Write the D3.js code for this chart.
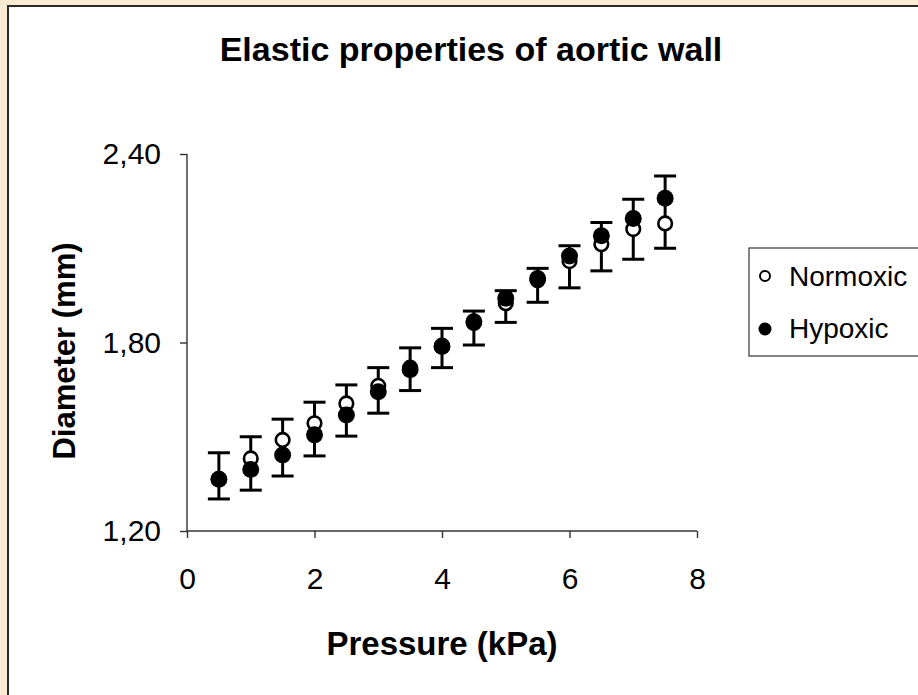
<!DOCTYPE html>
<html>
<head>
<meta charset="utf-8">
<script src="https://cdn.jsdelivr.net/npm/d3@7/dist/d3.min.js"></script>
<style>
  html, body { margin: 0; padding: 0; background: #f7ebd3; }
  svg { display: block; }
  text { font-family: "Liberation Sans", Arial, sans-serif; fill: #000; }
</style>
</head>
<body>
<svg id="chart" width="918" height="695"></svg>
<script>
// ---- data ----
const pressure = [0.5, 1, 1.5, 2, 2.5, 3, 3.5, 4, 4.5, 5, 5.5, 6, 6.5, 7, 7.5];
const normoxic = [1.365, 1.431, 1.490, 1.543, 1.606, 1.662, 1.720, 1.790, 1.862, 1.925, 1.998, 2.059, 2.113, 2.161, 2.179];
const hypoxic  = [1.365, 1.396, 1.442, 1.506, 1.569, 1.643, 1.713, 1.787, 1.866, 1.941, 2.004, 2.075, 2.140, 2.195, 2.259];
const errHigh  = [1.449, 1.500, 1.556, 1.610, 1.665, 1.720, 1.783, 1.845, 1.900, 1.965, 2.036, 2.108, 2.182, 2.256, 2.330];
const errLow   = [1.302, 1.330, 1.375, 1.439, 1.502, 1.575, 1.647, 1.720, 1.792, 1.864, 1.928, 1.974, 2.028, 2.065, 2.100];
const xTicks = [0, 2, 4, 6, 8];
const yTicks = [1.2, 1.8, 2.4];
const seriesNames = ["Normoxic", "Hypoxic"];
const titleText = "Elastic properties of aortic wall";
const xTitle = "Pressure (kPa)";
const yTitle = "Diameter (mm)";

const svg = d3.select("#chart");
const W = 918, H = 695;

// background & panel
svg.append("rect").attr("x", 0).attr("y", 0).attr("width", W).attr("height", H).attr("fill", "#f7ebd3");
svg.append("rect").attr("x", 8).attr("y", 6).attr("width", W + 40).attr("height", H + 40)
  .attr("fill", "#ffffff").attr("stroke", "#2a2a2a").attr("stroke-width", 2);

// scales
const x = d3.scaleLinear().domain([0, 8]).range([187, 697]);
const y = d3.scaleLinear().domain([1.2, 2.4]).range([531, 154]);

const locale = d3.formatLocale({ decimal: ",", thousands: ".", grouping: [3], currency: ["", ""] });
const fmtY = locale.format(".2f");

// axes
const xAxis = d3.axisBottom(x).tickValues(xTicks).tickSize(7).tickPadding(30).tickFormat(d3.format("d"));
const yAxis = d3.axisLeft(y).tickValues(yTicks).tickSize(7).tickPadding(19).tickFormat(fmtY);

const gx = svg.append("g").attr("transform", `translate(0,${y(1.2)})`).call(xAxis);
const gy = svg.append("g").attr("transform", `translate(${x(0)},0)`).call(yAxis);
[gx, gy].forEach(g => {
  g.selectAll("path.domain").attr("stroke", "#333").attr("stroke-width", 1.4);
  g.selectAll(".tick line").attr("stroke", "#333").attr("stroke-width", 1.4);
  g.selectAll(".tick text").attr("font-size", 30).attr("font-family", "Liberation Sans, Arial, sans-serif").attr("fill", "#000");
});
gx.selectAll("path.domain").attr("d", `M${x(0)},0H${x(8)}`);
gy.selectAll("path.domain").attr("d", `M0,${y(1.2)}V${y(2.4)}`);

// titles
svg.append("text").attr("x", 471).attr("y", 61).attr("text-anchor", "middle")
  .attr("font-size", 34).attr("font-weight", "bold").text(titleText);
svg.append("text").attr("x", 442).attr("y", 655).attr("text-anchor", "middle")
  .attr("font-size", 33).attr("font-weight", "bold").text(xTitle);
svg.append("text").attr("transform", "translate(75,351) rotate(-90)").attr("text-anchor", "middle")
  .attr("font-size", 31).attr("font-weight", "bold").text(yTitle);

// error bars
const capW = 11;
const eb = svg.append("g").attr("stroke", "#000").attr("stroke-width", 3).attr("fill", "none");
pressure.forEach((p, i) => {
  const cx = x(p);
  eb.append("line").attr("x1", cx).attr("x2", cx).attr("y1", y(errLow[i])).attr("y2", y(errHigh[i]));
  eb.append("line").attr("x1", cx - capW).attr("x2", cx + capW).attr("y1", y(errHigh[i])).attr("y2", y(errHigh[i]));
  eb.append("line").attr("x1", cx - capW).attr("x2", cx + capW).attr("y1", y(errLow[i])).attr("y2", y(errLow[i]));
});

// markers
svg.append("g").selectAll("circle").data(pressure).join("circle")
  .attr("cx", d => x(d)).attr("cy", (d, i) => y(normoxic[i])).attr("r", 6.8)
  .attr("fill", "#fff").attr("stroke", "#000").attr("stroke-width", 2.6);
svg.append("g").selectAll("circle").data(pressure).join("circle")
  .attr("cx", d => x(d)).attr("cy", (d, i) => y(hypoxic[i])).attr("r", 8.5)
  .attr("fill", "#000");

// legend
const lg = svg.append("g");
lg.append("rect").attr("x", 749).attr("y", 248).attr("width", 220).attr("height", 108)
  .attr("fill", "#fff").attr("stroke", "#333").attr("stroke-width", 1.2);
lg.append("circle").attr("cx", 765).attr("cy", 276).attr("r", 5).attr("fill", "#fff").attr("stroke", "#000").attr("stroke-width", 2);
lg.append("circle").attr("cx", 765).attr("cy", 329).attr("r", 6.5).attr("fill", "#000");
lg.append("text").attr("x", 789).attr("y", 286).attr("font-size", 28).text(seriesNames[0]);
lg.append("text").attr("x", 789).attr("y", 338).attr("font-size", 28).text(seriesNames[1]);
</script>
</body>
</html>
